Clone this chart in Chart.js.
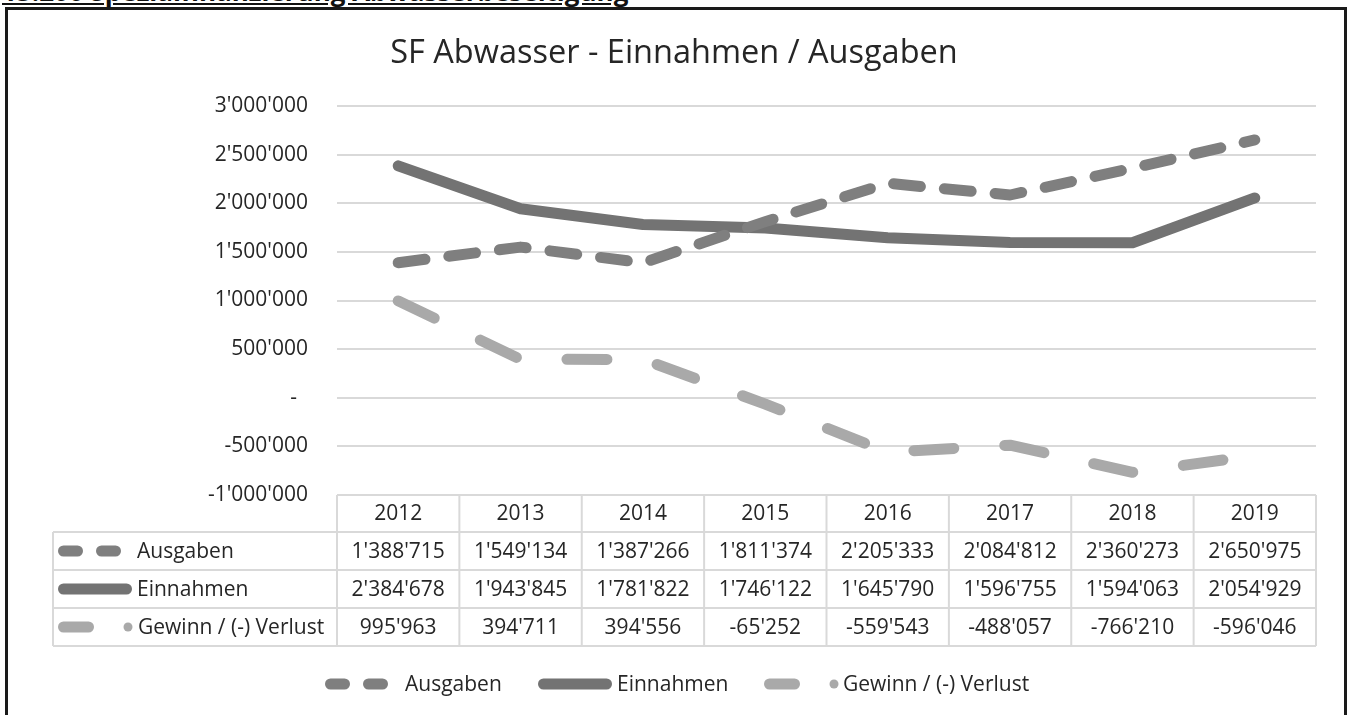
<!DOCTYPE html>
<html>
<head>
<meta charset="utf-8">
<script src="https://cdn.jsdelivr.net/npm/chart.js@4.4.1/dist/chart.umd.min.js"></script>
<style>
  html, body { margin: 0; padding: 0; background: #fff; width: 1352px; height: 715px; overflow: hidden; }
  #heading { position: absolute; left: 2px; top: -22px; font: bold 26px "Open Sans", sans-serif; line-height: 26px;
             text-decoration: underline; color: #111; white-space: nowrap; }
  #frame { position: absolute; left: 5px; top: 7px; width: 1336px; height: 760px; border: 3px solid #1a1a1a; }
  #chart { position: absolute; left: 0; top: 0; }
</style>
</head>
<body>
<div id="heading">15.200 Spezialfinanzierung Abwasserbeseitigung</div>
<div id="frame"></div>
<canvas id="chart" width="1352" height="715"></canvas>
<script>
// data
const years = ['2012', '2013', '2014', '2015', '2016', '2017', '2018', '2019'];
const ausgaben = [1388715, 1549134, 1387266, 1811374, 2205333, 2084812, 2360273, 2650975];
const einnahmen = [2384678, 1943845, 1781822, 1746122, 1645790, 1596755, 1594063, 2054929];
const gewinn = [995963, 394711, 394556, -65252, -559543, -488057, -766210, -596046];
const seriesNames = ['Ausgaben', 'Einnahmen', 'Gewinn / (-) Verlust'];
const yMin = -1000000, yMax = 3000000, yStep = 500000;

const colors = ['#7f7f7f', '#737373', '#a9a9a9'];
const textColor = '#262626';
const font = '"Open Sans", sans-serif';

// 1234567 -> 1'234'567
function fmt(v) {
    const s = Math.abs(v).toString().replace(/\B(?=(\d{3})+(?!\d))/g, "'");
    return (v < 0 ? '-' : '') + s;
}

// little line samples for table rows and legend (same look as Excel)
function drawSymbol(ctx, kind, x0, y, color) {
    ctx.save();
    ctx.strokeStyle = color;
    ctx.fillStyle = color;
    ctx.lineWidth = 11;
    ctx.lineCap = 'round';
    const seg = (a, b) => {
        ctx.beginPath();
        ctx.moveTo(x0 + a + 5.5, y);
        ctx.lineTo(x0 + b - 5.5, y);
        ctx.stroke();
    };
    if (kind === 0) {
        seg(0, 25);
        seg(38, 63);
    } else if (kind === 1) {
        seg(0, 74);
    } else {
        seg(0, 36);
        ctx.beginPath();
        ctx.arc(x0 + 70, y, 4.5, 0, Math.PI * 2);
        ctx.fill();
    }
    ctx.restore();
}

const tablePlugin = {
    id: 'dataTable',
    afterDraw(chart) {
        const { ctx, chartArea } = chart;
        const x = chart.scales.x;
        const colW = (chartArea.right - chartArea.left) / years.length;
        const top = chartArea.bottom;
        const headH = 37, rowH = 38;
        const tableLeft = 53;
        const bottom = top + headH + rowH * seriesNames.length;

        ctx.save();
        ctx.strokeStyle = '#d9d9d9';
        ctx.lineWidth = 2;
        const line = (x1, y1, x2, y2) => {
            ctx.beginPath();
            ctx.moveTo(x1, y1);
            ctx.lineTo(x2, y2);
            ctx.stroke();
        };
        line(chartArea.left, top, chartArea.right, top);
        for (let r = 0; r <= seriesNames.length; r++) {
            const yy = top + headH + r * rowH;
            line(tableLeft, yy, chartArea.right, yy);
        }
        line(tableLeft, top + headH, tableLeft, bottom);
        for (let i = 0; i <= years.length; i++) {
            const xx = i < years.length ? x.getPixelForValue(i) - colW / 2 : x.getPixelForValue(i - 1) + colW / 2;
            line(xx, top, xx, bottom);
        }

        ctx.font = '21px ' + font;
        ctx.fillStyle = textColor;
        ctx.textAlign = 'center';
        ctx.textBaseline = 'middle';
        years.forEach((yr, i) => ctx.fillText(yr, x.getPixelForValue(i), top + headH / 2 + 1));

        const symbolText = [137, 137, 138];
        chart.data.datasets.forEach((ds, r) => {
            const cy = top + headH + r * rowH + rowH / 2;
            ds.data.forEach((v, i) => {
                ctx.fillText(fmt(v), x.getPixelForValue(i), cy + 1);
            });
            drawSymbol(ctx, r, 58, cy, ds.borderColor);
            ctx.textAlign = 'left';
            ctx.fillText(ds.label, symbolText[r], cy + 1);
            ctx.textAlign = 'center';
        });

        // legend under the table
        const ly = 684;
        const legendPos = [[325, 405], [538, 617], [764, 843]];
        ctx.textAlign = 'left';
        chart.data.datasets.forEach((ds, r) => {
            drawSymbol(ctx, r, legendPos[r][0], ly, ds.borderColor);
            ctx.fillText(ds.label, legendPos[r][1], ly + 1);
        });
        ctx.restore();
    }
};

Chart.defaults.font.family = font;
Chart.defaults.color = textColor;

new Chart(document.getElementById('chart'), {
    type: 'line',
    data: {
        labels: years,
        datasets: [
            {
                label: seriesNames[0], data: ausgaben, borderColor: colors[0],
                borderWidth: 11, borderDash: [27, 24]
            },
            {
                label: seriesNames[1], data: einnahmen, borderColor: colors[1],
                borderWidth: 11
            },
            {
                label: seriesNames[2], data: gewinn, borderColor: colors[2],
                borderWidth: 11, borderDash: [40, 51]
            }
        ]
    },
    options: {
        responsive: false,
        animation: false,
        devicePixelRatio: 1,
        elements: {
            line: { tension: 0, borderCapStyle: 'round', borderJoinStyle: 'round', fill: false },
            point: { radius: 0, hoverRadius: 0 }
        },
        layout: { padding: { top: 34, left: 32, right: 36, bottom: 220 } },
        plugins: {
            legend: { display: false },
            tooltip: { enabled: false },
            title: {
                display: true,
                text: 'SF Abwasser - Einnahmen / Ausgaben',
                font: { size: 32.5, weight: 'normal' },
                color: textColor,
                padding: { top: 0, bottom: 33 }
            }
        },
        scales: {
            x: {
                display: false,
                offset: true
            },
            y: {
                min: yMin,
                max: yMax,
                ticks: {
                    stepSize: yStep,
                    padding: 29,
                    font: { size: 21 },
                    color: textColor,
                    callback: v => v === 0 ? '-  ' : fmt(v)
                },
                grid: { color: '#d9d9d9', lineWidth: 2, drawTicks: false },
                border: { display: false },
                afterFit: s => { s.width = 305; }
            }
        }
    },
    plugins: [tablePlugin]
});
</script>
</body>
</html>
